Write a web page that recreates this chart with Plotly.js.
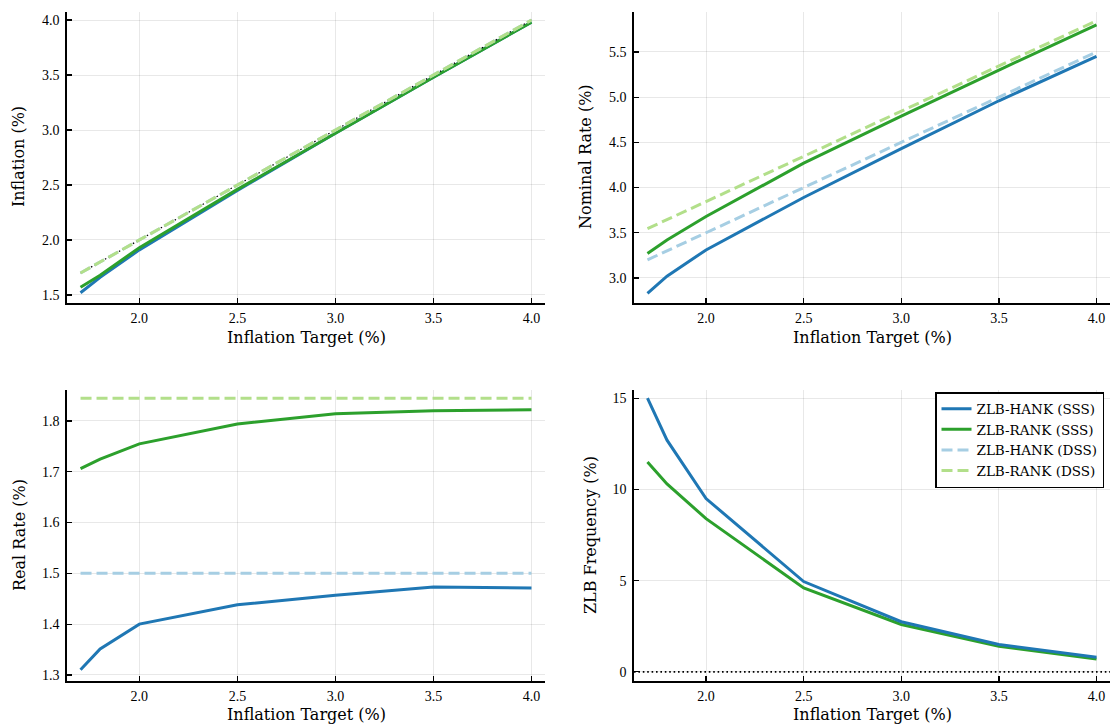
<!DOCTYPE html>
<html>
<head>
<meta charset="utf-8">
<script src="https://cdn.plot.ly/plotly-3.0.1.min.js"></script>
<style>
  html, body { margin: 0; padding: 0; background: #ffffff; }
  #chart { width: 1110px; height: 725px; }
</style>
</head>
<body>
<div id="chart"></div>
<script>
// Inflation targets on the horizontal axis (%)
const target = [1.7, 1.8, 2.0, 2.5, 3.0, 3.5, 4.0];

// Inflation (%)
const inflHankSSS = [1.52, 1.66, 1.91, 2.45, 2.97, 3.48, 3.98];
const inflRankSSS = [1.57, 1.68, 1.93, 2.46, 2.97, 3.48, 3.98];
const inflHankDSS = [1.7, 1.8, 2.0, 2.5, 3.0, 3.5, 4.0];
const inflRankDSS = [1.7, 1.8, 2.0, 2.5, 3.0, 3.5, 4.0];

// Nominal rate (%)
const nomHankSSS = [2.83, 3.02, 3.31, 3.89, 4.43, 4.96, 5.45];
const nomRankSSS = [3.27, 3.42, 3.68, 4.27, 4.79, 5.30, 5.80];
const nomHankDSS = [3.2, 3.3, 3.5, 4.0, 4.5, 5.0, 5.5];
const nomRankDSS = [3.545, 3.645, 3.845, 4.345, 4.845, 5.345, 5.845];

// Real rate (%)
const realHankSSS = [1.310, 1.351, 1.400, 1.438, 1.457, 1.473, 1.471];
const realRankSSS = [1.706, 1.725, 1.755, 1.794, 1.814, 1.820, 1.822];
const realHankDSS = [1.5, 1.5, 1.5, 1.5, 1.5, 1.5, 1.5];
const realRankDSS = [1.845, 1.845, 1.845, 1.845, 1.845, 1.845, 1.845];

// Frequency of hitting the zero lower bound (%)
const zlbHankSSS = [15.0, 12.7, 9.5, 4.95, 2.75, 1.5, 0.8];
const zlbRankSSS = [11.5, 10.3, 8.4, 4.6, 2.6, 1.4, 0.7];

// Tick labels
const xTickVals = [2.0, 2.5, 3.0, 3.5, 4.0];
const xTickText = ['2.0', '2.5', '3.0', '3.5', '4.0'];
const inflTickVals = [1.5, 2.0, 2.5, 3.0, 3.5, 4.0];
const inflTickText = ['1.5', '2.0', '2.5', '3.0', '3.5', '4.0'];
const nomTickVals = [3.0, 3.5, 4.0, 4.5, 5.0, 5.5];
const nomTickText = ['3.0', '3.5', '4.0', '4.5', '5.0', '5.5'];
const realTickVals = [1.3, 1.4, 1.5, 1.6, 1.7, 1.8];
const realTickText = ['1.3', '1.4', '1.5', '1.6', '1.7', '1.8'];
const zlbTickVals = [0, 5, 10, 15];
const zlbTickText = ['0', '5', '10', '15'];

const seriesNames = ['ZLB-HANK (SSS)', 'ZLB-RANK (SSS)', 'ZLB-HANK (DSS)', 'ZLB-RANK (DSS)'];

const FONT = 'Liberation Serif, Times New Roman, serif';
const TITLE_FONT = 'DejaVu Serif, serif';
const C_HANK = '#1f77b4';
const C_RANK = '#2ca02c';
const C_HANK_D = '#a6cee3';
const C_RANK_D = '#b2df8a';
const DASH = '11px,5px';

function solid(x, y, color, xa, ya, name, legend) {
  return { x, y, xaxis: xa, yaxis: ya, type: 'scatter', mode: 'lines', name,
           showlegend: !!legend, hoverinfo: 'skip',
           line: { color, width: 3 } };
}
function dashed(x, y, color, xa, ya, name, legend) {
  return { x, y, xaxis: xa, yaxis: ya, type: 'scatter', mode: 'lines', name,
           showlegend: !!legend, hoverinfo: 'skip',
           line: { color, width: 3, dash: DASH } };
}

const traces = [
  // Inflation panel
  solid(target, inflHankSSS, C_HANK, 'x', 'y', seriesNames[0]),
  solid(target, inflRankSSS, C_RANK, 'x', 'y', seriesNames[1]),
  { x: target, y: target, xaxis: 'x', yaxis: 'y', type: 'scatter', mode: 'lines',
    showlegend: false, hoverinfo: 'skip', line: { color: '#000000', width: 1.2, dash: '1.5px,2.5px' } },
  dashed(target, inflHankDSS, C_HANK_D, 'x', 'y', seriesNames[2]),
  dashed(target, inflRankDSS, C_RANK_D, 'x', 'y', seriesNames[3]),

  // Nominal rate panel (carries the legend entries)
  solid(target, nomHankSSS, C_HANK, 'x2', 'y2', seriesNames[0], true),
  solid(target, nomRankSSS, C_RANK, 'x2', 'y2', seriesNames[1], true),
  dashed(target, nomHankDSS, C_HANK_D, 'x2', 'y2', seriesNames[2], true),
  dashed(target, nomRankDSS, C_RANK_D, 'x2', 'y2', seriesNames[3], true),

  // Real rate panel
  solid(target, realHankSSS, C_HANK, 'x3', 'y3', seriesNames[0]),
  solid(target, realRankSSS, C_RANK, 'x3', 'y3', seriesNames[1]),
  dashed(target, realHankDSS, C_HANK_D, 'x3', 'y3', seriesNames[2]),
  dashed(target, realRankDSS, C_RANK_D, 'x3', 'y3', seriesNames[3]),

  // ZLB frequency panel
  solid(target, zlbRankSSS, C_RANK, 'x4', 'y4', seriesNames[1]),
  solid(target, zlbHankSSS, C_HANK, 'x4', 'y4', seriesNames[0])
];

const baseAxis = {
  showline: true, linecolor: '#000000', linewidth: 1.6,
  ticks: 'inside', ticklen: 5, tickwidth: 1.2, tickcolor: '#000000',
  showgrid: true, gridcolor: 'rgba(0,0,0,0.09)', gridwidth: 1,
  zeroline: false, mirror: false, fixedrange: true,
  tickfont: { family: FONT, size: 14, color: '#000000' },
  tickmode: 'array'
};
function xAxis(domain, anchor) {
  return Object.assign({}, baseAxis, {
    domain, anchor, range: [1.631, 4.069],
    tickvals: xTickVals, ticktext: xTickText, ticklabelstandoff: 2
  });
}
function yAxis(domain, anchor, range, vals, text) {
  return Object.assign({}, baseAxis, {
    domain, anchor, range, tickvals: vals, ticktext: text, ticklabelstandoff: 3
  });
}

const LEFT = [67 / 1110, 545 / 1110];
const RIGHT = [634 / 1110, 1.0];
const TOP = [1 - 303 / 725, 1 - 12 / 725];
const BOTTOM = [1 - 681 / 725, 1 - 390 / 725];

function title(text, x, y, rot) {
  return { text, x, y, xref: 'paper', yref: 'paper', showarrow: false,
           xanchor: 'center', yanchor: 'middle', textangle: rot || 0,
           font: { family: TITLE_FONT, size: 16, color: '#000000' } };
}

const layout = {
  width: 1110, height: 725,
  margin: { l: 0, r: 0, t: 0, b: 0 },
  paper_bgcolor: '#ffffff', plot_bgcolor: '#ffffff',
  font: { family: FONT, color: '#000000' },
  xaxis: xAxis(LEFT, 'y'),
  yaxis: yAxis(TOP, 'x', [1.427, 4.073], inflTickVals, inflTickText),
  xaxis2: xAxis(RIGHT, 'y2'),
  yaxis2: yAxis(TOP, 'x2', [2.723, 5.942], nomTickVals, nomTickText),
  xaxis3: xAxis(LEFT, 'y3'),
  yaxis3: yAxis(BOTTOM, 'x3', [1.288, 1.861], realTickVals, realTickText),
  xaxis4: xAxis(RIGHT, 'y4'),
  yaxis4: yAxis(BOTTOM, 'x4', [-0.5, 15.45], zlbTickVals, zlbTickText),
  shapes: [
    { type: 'line', xref: 'x4 domain', yref: 'y4', x0: 0, x1: 1, y0: 0, y1: 0,
      line: { color: '#000000', width: 1.6, dash: '1.6px,2.8px' }, layer: 'above' }
  ],
  annotations: [
    title('Inflation Target (%)', 306 / 1110, 1 - 338 / 725),
    title('Inflation Target (%)', 872 / 1110, 1 - 338 / 725),
    title('Inflation Target (%)', 306 / 1110, 1 - 714 / 725),
    title('Inflation Target (%)', 872 / 1110, 1 - 714 / 725),
    title('Inflation (%)', 19 / 1110, 1 - 157 / 725, -90),
    title('Nominal Rate (%)', 586 / 1110, 1 - 157 / 725, -90),
    title('Real Rate (%)', 19 / 1110, 1 - 535 / 725, -90),
    title('ZLB Frequency (%)', 590 / 1110, 1 - 535 / 725, -90)
  ],
  showlegend: true,
  legend: {
    x: 1104 / 1110, xanchor: 'right', y: 1 - 392 / 725, yanchor: 'top',
    bgcolor: '#ffffff', bordercolor: '#000000', borderwidth: 1.5,
    font: { family: TITLE_FONT, size: 13.5, color: '#000000' },
    itemwidth: 30, tracegroupgap: 0, traceorder: 'normal'
  }
};

Plotly.newPlot('chart', traces, layout, { staticPlot: true, displayModeBar: false });
</script>
</body>
</html>
